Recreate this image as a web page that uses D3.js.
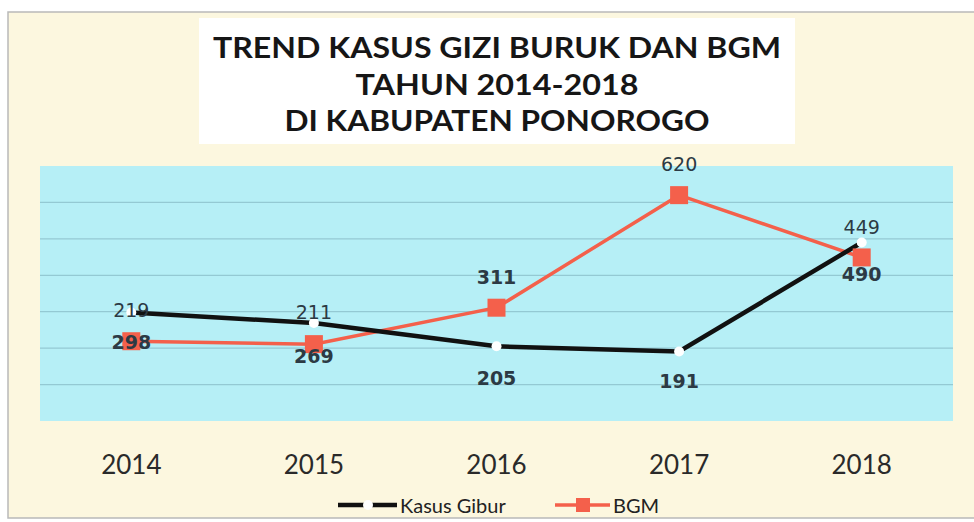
<!DOCTYPE html>
<html>
<head>
<meta charset="utf-8">
<script src="https://d3js.org/d3.v7.min.js"></script>
<style>
  body { margin: 0; background: #fff; }
</style>
</head>
<body>
<div id="chart"></div>
<script>
// data
var years = ["2014", "2015", "2016", "2017", "2018"];
var giburValues = [298, 269, 205, 191, 490];   // black line, as plotted
var bgmValues = [219, 211, 311, 620, 449];     // red line, as plotted
var giburLabels = ["219", "211", "205", "191", "449"];
var bgmLabels = ["298", "269", "311", "620", "490"];
var yTicks = [100, 200, 300, 400, 500, 600];
var titleLines = ["TREND KASUS GIZI BURUK DAN BGM", "TAHUN 2014-2018", "DI KABUPATEN PONOROGO"];

var W = 974, H = 522;
var plot = {left: 40, right: 953, top: 166, bottom: 421};

var svg = d3.select("#chart").append("svg")
    .attr("width", W)
    .attr("height", H);

// scanned page background + frame
svg.append("rect")
    .attr("x", 8).attr("y", 12)
    .attr("width", W).attr("height", 506)
    .attr("fill", "#fcf7df")
    .attr("stroke", "#b9b9b9")
    .attr("stroke-width", 1.5);

// title box
svg.append("rect")
    .attr("x", 199).attr("y", 18)
    .attr("width", 596).attr("height", 126)
    .attr("fill", "#ffffff");

var titleY = [51, 88, 124];
var titleW = [568, 283, 425];
svg.selectAll(".title")
    .data(titleLines)
    .enter()
    .append("text")
        .attr("x", 497)
        .attr("y", function(d, i) { return titleY[i]; })
        .attr("text-anchor", "middle")
        .attr("dominant-baseline", "middle")
        .attr("font-family", "Lato, 'Open Sans', sans-serif")
        .attr("font-weight", "bold")
        .attr("font-size", 28)
        .attr("fill", "#161616")
        .attr("textLength", function(d, i) { return titleW[i]; })
        .attr("lengthAdjust", "spacingAndGlyphs")
        .text(function(d) { return d; });

// scales
var x = d3.scaleBand()
    .domain(years)
    .range([plot.left, plot.right]);
var cx = function(d) { return x(d) + x.bandwidth() / 2; };

var y = d3.scaleLinear()
    .domain([0, 700])
    .range([plot.bottom, plot.top]);

// plot area
svg.append("rect")
    .attr("x", plot.left).attr("y", plot.top)
    .attr("width", plot.right - plot.left)
    .attr("height", plot.bottom - plot.top)
    .attr("fill", "#b6eff6");

svg.append("g")
    .selectAll("line")
    .data(yTicks)
    .enter()
    .append("line")
        .attr("x1", plot.left).attr("x2", plot.right)
        .attr("y1", function(d) { return y(d); })
        .attr("y2", function(d) { return y(d); })
        .attr("stroke", "#94c9d3")
        .attr("stroke-width", 1.3);

// x axis labels
var xAxis = svg.append("g")
    .attr("transform", "translate(0," + 465 + ")")
    .call(d3.axisBottom(x).tickSize(0).tickPadding(0));
xAxis.select(".domain").remove();
xAxis.selectAll("text")
    .attr("dy", "0.35em")
    .attr("font-family", "Lato, 'Open Sans', sans-serif")
    .attr("font-size", 26)
    .attr("fill", "#2a2a2a");

// lines
var gibur = years.map(function(d, i) { return {year: d, v: giburValues[i], label: giburLabels[i]}; });
var bgm = years.map(function(d, i) { return {year: d, v: bgmValues[i], label: bgmLabels[i]}; });

var line = d3.line()
    .x(function(d) { return cx(d.year); })
    .y(function(d) { return y(d.v); });

svg.append("path")
    .datum(bgm)
    .attr("d", line)
    .attr("fill", "none")
    .attr("stroke", "#f4604b")
    .attr("stroke-width", 3.5);

svg.append("path")
    .datum(gibur)
    .attr("d", line)
    .attr("fill", "none")
    .attr("stroke", "#111111")
    .attr("stroke-width", 4.5);

svg.selectAll(".bgmDot")
    .data(bgm)
    .enter()
    .append("rect")
        .attr("x", function(d) { return cx(d.year) - 9; })
        .attr("y", function(d) { return y(d.v) - 9; })
        .attr("width", 18).attr("height", 18)
        .attr("fill", "#f4604b");

svg.selectAll(".giburDot")
    .data(gibur)
    .enter()
    .append("circle")
        .attr("cx", function(d) { return cx(d.year); })
        .attr("cy", function(d) { return y(d.v); })
        .attr("r", 5)
        .attr("fill", "#ffffff");

// data labels
var giburDy = [-2, -11, 32, 30, -16];
var bgmDy = [1, 12, -31, -31, 17];
var giburBold = [false, false, true, true, false];
var bgmBold = [true, true, true, false, true];

svg.selectAll(".giburLabel")
    .data(gibur)
    .enter()
    .append("text")
        .attr("x", function(d) { return cx(d.year); })
        .attr("y", function(d, i) { return y(d.v) + giburDy[i]; })
        .attr("text-anchor", "middle")
        .attr("dominant-baseline", "central")
        .attr("font-family", "'DejaVu Sans', Verdana, sans-serif")
        .attr("font-size", 19)
        .attr("font-weight", function(d, i) { return giburBold[i] ? "bold" : "normal"; })
        .attr("fill", "#2c3a44")
        .text(function(d) { return d.label; });

svg.selectAll(".bgmLabel")
    .data(bgm)
    .enter()
    .append("text")
        .attr("x", function(d) { return cx(d.year); })
        .attr("y", function(d, i) { return y(d.v) + bgmDy[i]; })
        .attr("text-anchor", "middle")
        .attr("dominant-baseline", "central")
        .attr("font-family", "'DejaVu Sans', Verdana, sans-serif")
        .attr("font-size", 19)
        .attr("font-weight", function(d, i) { return bgmBold[i] ? "bold" : "normal"; })
        .attr("fill", "#2c3a44")
        .text(function(d) { return d.label; });

// legend
var legend = svg.append("g").attr("transform", "translate(0,505)");

legend.append("line")
    .attr("x1", 338).attr("x2", 397)
    .attr("stroke", "#111").attr("stroke-width", 4.5);
legend.append("circle")
    .attr("cx", 368).attr("cy", 0).attr("r", 5)
    .attr("fill", "#fff");
legend.append("text")
    .attr("x", 400).attr("y", 0)
    .attr("dominant-baseline", "central")
    .attr("font-family", "Lato, 'Open Sans', sans-serif")
    .attr("font-size", 20)
    .attr("fill", "#222")
    .text("Kasus Gibur");

legend.append("line")
    .attr("x1", 555).attr("x2", 610)
    .attr("stroke", "#f4604b").attr("stroke-width", 3.5);
legend.append("rect")
    .attr("x", 576).attr("y", -7)
    .attr("width", 14).attr("height", 14)
    .attr("fill", "#f4604b");
legend.append("text")
    .attr("x", 613).attr("y", 0)
    .attr("dominant-baseline", "central")
    .attr("font-family", "Lato, 'Open Sans', sans-serif")
    .attr("font-size", 20)
    .attr("fill", "#222")
    .text("BGM");
</script>
</body>
</html>
